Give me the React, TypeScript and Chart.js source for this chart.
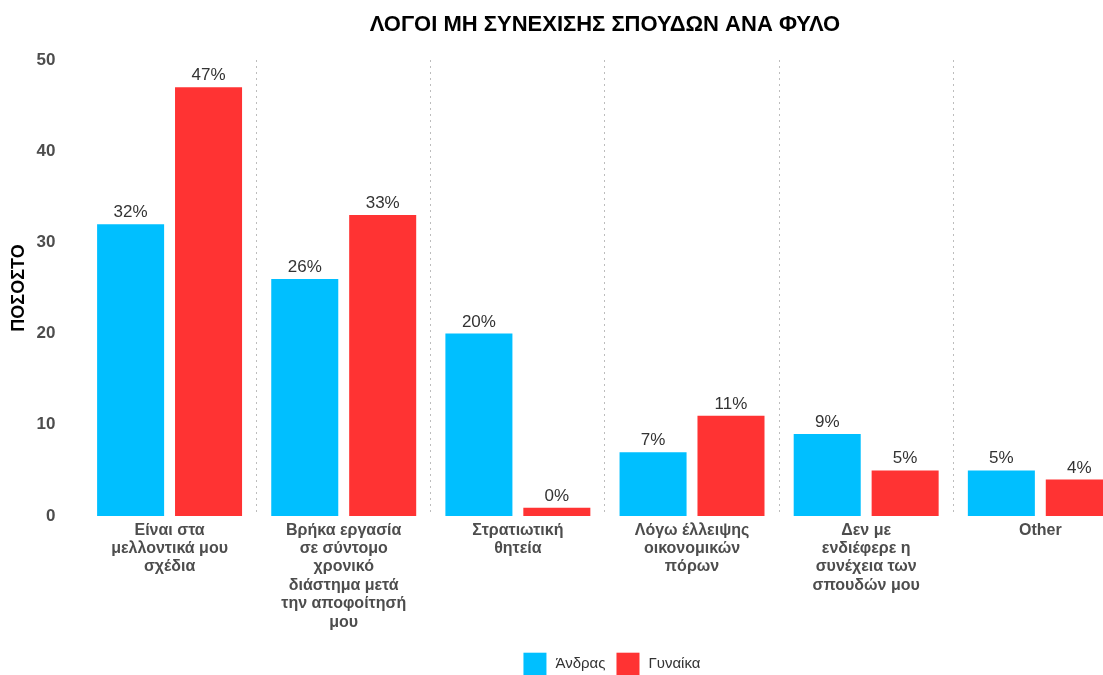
import React, { useEffect, useRef } from "react";
import { Chart, registerables } from "chart.js";

Chart.register(...registerables);

const categories: (string | string[])[] = [
  ["Είναι στα", "μελλοντικά μου", "σχέδια"],
  ["Βρήκα εργασία", "σε σύντομο", "χρονικό", "διάστημα μετά", "την αποφοίτησή", "μου"],
  ["Στρατιωτική", "θητεία"],
  ["Λόγω έλλειψης", "οικονομικών", "πόρων"],
  ["Δεν με", "ενδιέφερε η", "συνέχεια των", "σπουδών μου"],
  "Other",
];
const seriesNames = ["Άνδρας", "Γυναίκα"];
const seriesColors = ["#00BFFF", "#FF3333"];
const menValues = [32, 26, 20, 7, 9, 5];
const womenValues = [47, 33, 0.9, 11, 5, 4];
const menLabels = ["32%", "26%", "20%", "7%", "9%", "5%"];
const womenLabels = ["47%", "33%", "0%", "11%", "5%", "4%"];
const yTicks = [0, 10, 20, 30, 40, 50];

const FONT = "'Liberation Sans', Arial, sans-serif";
const W = 1140;
const H = 685;

const valueLabels = {
  id: "valueLabels",
  afterDatasetsDraw(chart: any) {
    const ctx = chart.ctx;
    const all = [menLabels, womenLabels];
    ctx.save();
    ctx.font = `17px ${FONT}`;
    ctx.fillStyle = "#333333";
    ctx.textAlign = "center";
    ctx.textBaseline = "alphabetic";
    chart.data.datasets.forEach((_: any, di: number) => {
      const meta = chart.getDatasetMeta(di);
      meta.data.forEach((bar: any, i: number) => {
        ctx.fillText(all[di][i], bar.x, bar.y - 7);
      });
    });
    ctx.restore();
  },
};

const customLegend = {
  id: "customLegend",
  afterDraw(chart: any) {
    const ctx = chart.ctx;
    const area = chart.chartArea;
    const box = 23;
    const gapText = 9;
    const gapItem = 11;
    ctx.save();
    ctx.font = `15px ${FONT}`;
    const widths = seriesNames.map((n) => ctx.measureText(n).width);
    const total = widths.reduce((a, w) => a + box + gapText + w, 0) + gapItem * (seriesNames.length - 1);
    let x = (area.left + area.right) / 2 + 7 - total / 2;
    const top = 652.7;
    seriesNames.forEach((n, i) => {
      ctx.fillStyle = seriesColors[i];
      ctx.fillRect(x, top, box, box);
      x += box + gapText;
      ctx.fillStyle = "#333333";
      ctx.textAlign = "left";
      ctx.textBaseline = "middle";
      ctx.fillText(n, x, top + 11);
      x += widths[i] + gapItem;
    });
    ctx.restore();
  },
};

export default function App() {
  const ref = useRef<HTMLCanvasElement>(null);
  useEffect(() => {
    if (!ref.current) return;
    const chart = new Chart(ref.current, {
      type: "bar",
      data: {
        labels: categories,
        datasets: [
          {
            label: seriesNames[0],
            data: menValues,
            backgroundColor: seriesColors[0],
            categoryPercentage: 0.895,
            barPercentage: 0.86,
          },
          {
            label: seriesNames[1],
            data: womenValues,
            backgroundColor: seriesColors[1],
            categoryPercentage: 0.895,
            barPercentage: 0.86,
          },
        ],
      },
      options: {
        responsive: false,
        animation: false,
        devicePixelRatio: 1,
        layout: { padding: { left: 0, right: W - 1127.4, top: 0, bottom: 43 } },
        plugins: {
          title: {
            display: true,
            text: "ΛΟΓΟΙ ΜΗ ΣΥΝΕΧΙΣΗΣ ΣΠΟΥΔΩΝ ΑΝΑ ΦΥΛΟ",
            fullSize: false,
            color: "#000000",
            font: { family: FONT, size: 22, weight: "bold" },
            padding: { top: 12, bottom: 21.6 },
          },
          legend: { display: false },
          tooltip: { enabled: false },
        },
        scales: {
          x: {
            grid: {
              offset: true,
              drawTicks: false,
              color: (c: any) =>
                c.index === 0 || c.index === categories.length ? "rgba(0,0,0,0)" : "#bdbdbd",
              lineWidth: 1,
            },
            border: { display: false, dash: [2, 4] },
            ticks: {
              color: "#4D4D4D",
              font: { family: FONT, size: 16, weight: "bold", lineHeight: 1.15 },
              padding: 5,
              maxRotation: 0,
              autoSkip: false,
            },
            afterFit: (axis: any) => {
              axis.height = 126;
            },
          },
          y: {
            min: 0,
            max: 50,
            afterBuildTicks: (axis: any) => {
              axis.ticks = yTicks.map((v) => ({ value: v }));
            },
            grid: { display: false, drawTicks: false },
            border: { display: false },
            ticks: {
              color: "#4D4D4D",
              font: { family: FONT, size: 17, weight: "bold" },
              padding: 27,
            },
            title: {
              display: true,
              text: "ΠΟΣΟΣΤΟ",
              color: "#000000",
              font: { family: FONT, size: 18, weight: "bold" },
              padding: { top: 8, bottom: 0 },
            },
            afterFit: (axis: any) => {
              axis.width = 82.5;
            },
          },
        },
      },
      plugins: [valueLabels, customLegend],
    });
    return () => chart.destroy();
  }, []);

  return (
    <div
      style={{
        position: "fixed",
        left: 0,
        top: 0,
        width: 1103,
        height: 675,
        overflow: "hidden",
        background: "#ffffff",
      }}
    >
      <canvas ref={ref} width={W} height={H} style={{ width: W, height: H, display: "block" }} />
    </div>
  );
}
